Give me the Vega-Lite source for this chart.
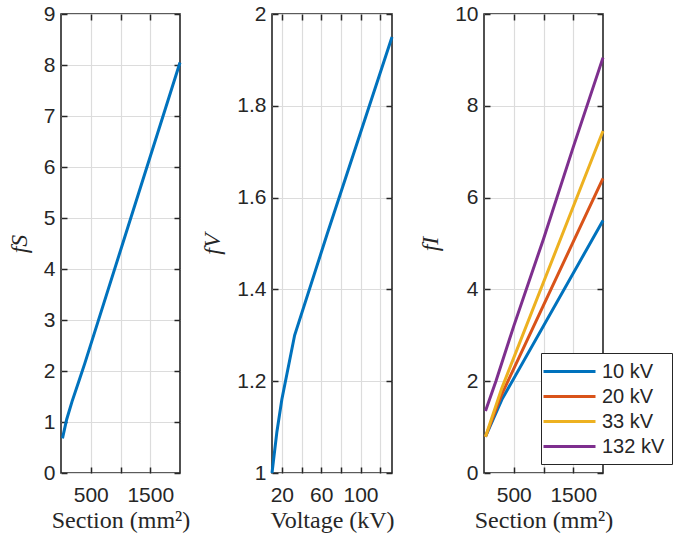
{
  "$schema": "https://vega.github.io/schema/vega-lite/v6.json",
  "background": "white",
  "padding": {"left": 6, "top": 2, "right": 5, "bottom": 2},
  "bounds": "flush",
  "spacing": 92,
  "datasets": {
    "s1": [
      {"section": 25, "f": 0.68},
      {"section": 95, "f": 1.05},
      {"section": 185, "f": 1.4},
      {"section": 300, "f": 1.8},
      {"section": 400, "f": 2.15},
      {"section": 2000, "f": 8.05}
    ],
    "s2": [
      {"voltage": 10, "f": 1.0},
      {"voltage": 15, "f": 1.09},
      {"voltage": 20, "f": 1.16},
      {"voltage": 33, "f": 1.3},
      {"voltage": 66, "f": 1.52},
      {"voltage": 132, "f": 1.95}
    ],
    "s3": [
      {"series": "10 kV", "section": 25, "f": 0.79},
      {"series": "10 kV", "section": 300, "f": 1.6},
      {"series": "10 kV", "section": 2000, "f": 5.5},
      {"series": "20 kV", "section": 25, "f": 0.79},
      {"series": "20 kV", "section": 300, "f": 1.72},
      {"series": "20 kV", "section": 2000, "f": 6.42},
      {"series": "33 kV", "section": 25, "f": 0.79},
      {"series": "33 kV", "section": 300, "f": 1.85},
      {"series": "33 kV", "section": 2000, "f": 7.45},
      {"series": "132 kV", "section": 25, "f": 1.35},
      {"series": "132 kV", "section": 200, "f": 2.0},
      {"series": "132 kV", "section": 500, "f": 3.2},
      {"series": "132 kV", "section": 1000, "f": 5.1},
      {"series": "132 kV", "section": 1500, "f": 7.1},
      {"series": "132 kV", "section": 2000, "f": 9.05}
    ]
  },
  "hconcat": [
    {
      "width": 119,
      "height": 459,
      "data": {"name": "s1"},
      "layer": [
        {
          "mark": {"type": "line", "color": "#0072BD", "strokeWidth": 3},
          "encoding": {
            "x": {"field": "section", "type": "quantitative", "scale": {"domain": [0, 2000], "nice": false},
              "axis": {"values": [500, 1000, 1500], "format": "d", "labelExpr": "datum.value == 1000 ? '' : datum.label", "title": "Section (mm²)"}},
            "y": {"field": "f", "type": "quantitative", "scale": {"domain": [0, 9], "nice": false},
              "axis": {"values": [0,1,2,3,4,5,6,7,8,9], "title": "fS", "titleFontStyle": "italic"}}
          }
        },
        {
          "mark": {"type": "line", "opacity": 0},
          "encoding": {
            "x": {"field": "section", "type": "quantitative", "axis": {"orient": "top", "values": [500, 1000, 1500], "labels": false, "grid": false, "title": null}},
            "y": {"field": "f", "type": "quantitative", "axis": {"orient": "right", "values": [0,1,2,3,4,5,6,7,8,9], "labels": false, "grid": false, "title": null}}
          }
        }
      ],
      "resolve": {"axis": {"x": "independent", "y": "independent"}}
    },
    {
      "width": 120,
      "height": 459,
      "data": {"name": "s2"},
      "layer": [
        {
          "mark": {"type": "line", "color": "#0072BD", "strokeWidth": 3},
          "encoding": {
            "x": {"field": "voltage", "type": "quantitative", "scale": {"domain": [10, 132], "nice": false},
              "axis": {"values": [20, 40, 60, 80, 100, 120], "labelExpr": "(datum.value - 20) % 40 == 0 ? datum.label : ''", "title": "Voltage (kV)"}},
            "y": {"field": "f", "type": "quantitative", "scale": {"domain": [1, 2], "nice": false, "zero": false},
              "axis": {"values": [1, 1.2, 1.4, 1.6, 1.8, 2], "format": "~g", "title": "fV", "titleFontStyle": "italic"}}
          }
        },
        {
          "mark": {"type": "line", "opacity": 0},
          "encoding": {
            "x": {"field": "voltage", "type": "quantitative", "axis": {"orient": "top", "values": [20, 40, 60, 80, 100, 120], "labels": false, "grid": false, "title": null}},
            "y": {"field": "f", "type": "quantitative", "axis": {"orient": "right", "values": [1, 1.2, 1.4, 1.6, 1.8, 2], "labels": false, "grid": false, "title": null}}
          }
        }
      ],
      "resolve": {"axis": {"x": "independent", "y": "independent"}}
    },
    {
      "width": 119,
      "height": 459,
      "data": {"name": "s3"},
      "layer": [
        {
          "mark": {"type": "line", "strokeWidth": 3},
          "encoding": {
            "x": {"field": "section", "type": "quantitative", "scale": {"domain": [0, 2000], "nice": false},
              "axis": {"values": [500, 1000, 1500], "format": "d", "labelExpr": "datum.value == 1000 ? '' : datum.label", "title": "Section (mm²)"}},
            "y": {"field": "f", "type": "quantitative", "scale": {"domain": [0, 10], "nice": false},
              "axis": {"values": [0, 2, 4, 6, 8, 10], "title": "fI", "titleFontStyle": "italic"}},
            "color": {"field": "series", "type": "nominal",
              "scale": {"domain": ["10 kV", "20 kV", "33 kV", "132 kV"], "range": ["#0072BD", "#D95319", "#EDB120", "#7E2F8E"]},
              "legend": {"orient": "none", "legendX": 480, "legendY": 339, "title": null,
                "symbolType": "M-2.6,0H2.6", "symbolSize": 400, "symbolStrokeWidth": 3, "symbolOffset": 10,
                "labelOffset": 21, "labelFont": "Liberation Sans", "labelFontSize": 20, "labelColor": "#262626",
                "strokeColor": "#262626", "fillColor": "white", "padding": 7, "rowPadding": 3}}
          }
        },
        {
          "mark": {"type": "line", "opacity": 0},
          "encoding": {
            "x": {"field": "section", "type": "quantitative", "axis": {"orient": "top", "values": [500, 1000, 1500], "labels": false, "grid": false, "title": null}},
            "y": {"field": "f", "type": "quantitative", "axis": {"orient": "right", "values": [0, 2, 4, 6, 8, 10], "labels": false, "grid": false, "title": null}},
            "detail": {"field": "series"}
          }
        }
      ],
      "resolve": {"axis": {"x": "independent", "y": "independent"}}
    }
  ],
  "config": {
    "view": {"stroke": "#262626", "strokeWidth": 1.6},
    "axis": {
      "labelFont": "Liberation Sans", "labelFontSize": 21, "labelColor": "#262626",
      "titleFont": "Liberation Serif", "titleFontSize": 24, "titleFontWeight": "normal", "titleColor": "#262626",
      "gridColor": "#dcdcdc", "gridWidth": 1.2,
      "tickColor": "#262626", "tickSize": -6, "tickWidth": 1.5, "domain": false
    },
    "axisX": {"titlePadding": 3, "labelPadding": 17},
    "axisY": {"titlePadding": 12, "labelPadding": 12}
  }
}
